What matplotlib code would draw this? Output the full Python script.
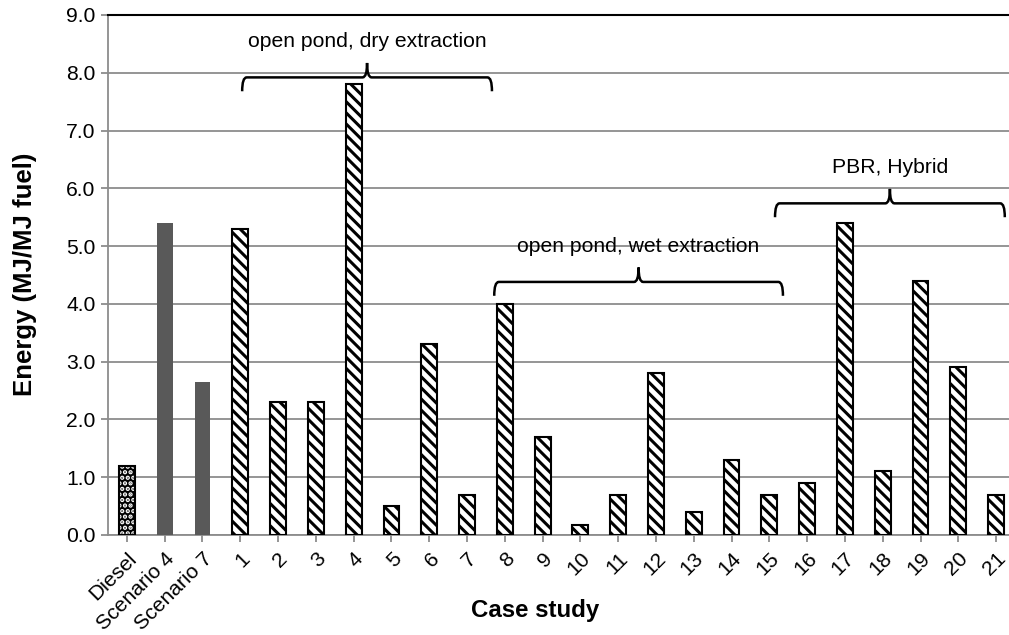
import matplotlib
matplotlib.use("Agg")
import matplotlib.pyplot as plt
from matplotlib.path import Path
from matplotlib.patches import PathPatch
import numpy as np

plt.rcParams['font.family'] = ['Liberation Sans', 'DejaVu Sans']
plt.rcParams['hatch.linewidth'] = 2.2

categories = ["Diesel", "Scenario 4", "Scenario 7"] + [str(i) for i in range(1, 22)]
values = [1.2, 5.4, 2.65, 5.3, 2.3, 2.3, 7.8, 0.5, 3.3, 0.7, 4.0, 1.7, 0.17,
          0.7, 2.8, 0.4, 1.3, 0.7, 0.9, 5.4, 1.1, 4.4, 2.9, 0.7]
styles = ["dots", "solid", "solid"] + ["stripes"] * 21

groups = ["open pond, dry extraction", "open pond, wet extraction", "PBR, Hybrid"]
group_span = [(3.05, 9.66), (9.72, 17.36), (17.15, 23.23)]
group_level = [7.92, 4.38, 5.74]

W, H = 1009, 635
FS = 15.2
fig = plt.figure(figsize=(W / 100, H / 100), dpi=100)
left, right, top, bottom = 108, 1015, 15, 535
ax = fig.add_axes([left / W, 1 - bottom / H, (right - left) / W, (bottom - top) / H])

x = np.arange(len(categories))
bw = 0.42
for xi, v, s in zip(x, values, styles):
    if s == "solid":
        ax.bar(xi, v, width=bw, color="#595959", edgecolor="#595959", linewidth=0, zorder=3)
    elif s == "dots":
        ax.bar(xi, v, width=bw, color="black", edgecolor="white", hatch="...", linewidth=0, zorder=3)
        ax.bar(xi, v, width=bw, fill=False, edgecolor="black", linewidth=1.5, zorder=4)
    else:
        ax.bar(xi, v, width=bw, color="white", edgecolor="black", hatch="\\\\\\", linewidth=1.5, zorder=3)

ax.set_xlim(-0.5, len(categories) - 0.5)
ax.set_ylim(0, 9)
ax.set_yticks(np.arange(0, 9.01, 1.0))
ax.set_yticklabels([f"{t:.1f}" for t in np.arange(0, 9.01, 1.0)], fontsize=FS)
ax.set_xticks(x)
ax.set_xticklabels(categories, rotation=45, ha="right", rotation_mode="anchor", fontsize=FS)
ax.grid(axis="y", color="#8c8c8c", linewidth=1.3, zorder=0)
ax.tick_params(axis="both", color="#8c8c8c", length=5, width=1.3)
ax.tick_params(axis="x", pad=5)
ax.tick_params(axis="y", pad=4)
for side in ["left", "bottom"]:
    ax.spines[side].set_color("#8c8c8c")
    ax.spines[side].set_linewidth(1.3)
ax.spines["top"].set_color("black")
ax.spines["top"].set_linewidth(1.5)
ax.spines["right"].set_visible(False)

ax.set_ylabel("Energy (MJ/MJ fuel)", fontsize=18.5, fontweight="bold", va="center")
ax.yaxis.set_label_coords((25 - left) / (right - left), (bottom - 274) / (bottom - top))
ax.set_xlabel("Case study", fontsize=17.3, fontweight="bold", va="center")
ax.xaxis.set_label_coords((535 - left) / (right - left), (bottom - 611) / (bottom - top))


def brace(ax, x0, x1, y, h_end=0.24, h_peak=0.25):
    xm = (x0 + x1) / 2
    r = 0.12
    verts = [
        (x0, y - h_end), (x0, y), (x0 + r, y),
        (xm - r, y), (xm, y), (xm, y + h_peak),
        (xm, y), (xm + r, y),
        (x1 - r, y), (x1, y), (x1, y - h_end),
    ]
    codes = [Path.MOVETO, Path.CURVE3, Path.CURVE3,
             Path.LINETO, Path.CURVE3, Path.CURVE3,
             Path.CURVE3, Path.CURVE3,
             Path.LINETO, Path.CURVE3, Path.CURVE3]
    ax.add_patch(PathPatch(Path(verts, codes), fill=False, edgecolor="black",
                           linewidth=1.8, zorder=5, clip_on=False))
    return xm


for name, (a, b), lvl in zip(groups, group_span, group_level):
    xm = brace(ax, a, b, lvl)
    ax.text(xm, lvl + 0.62, name, ha="center", va="center", fontsize=FS, zorder=6)

fig.savefig("out.png", dpi=100)
